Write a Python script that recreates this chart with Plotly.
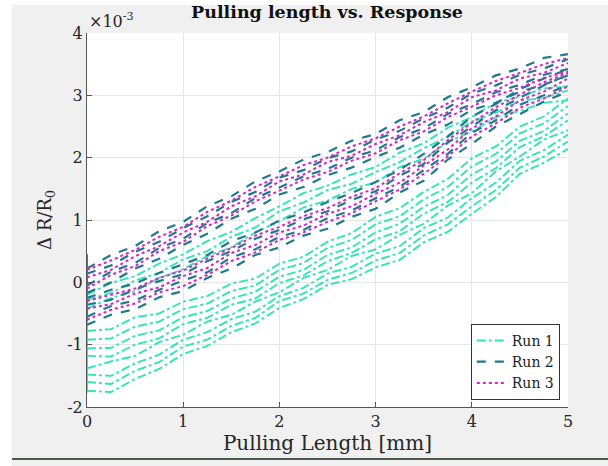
import plotly.graph_objects as go

# x grid of pulling length [mm]
x_mm = [0, 0.25, 0.5, 0.75, 1, 1.25, 1.5, 1.75, 2, 2.25, 2.5, 2.75, 3, 3.25, 3.5, 3.75, 4, 4.25, 4.5, 4.75, 5]

# Run 1 (values are dR/R0 in units of 1e-3)
run1_load_1 = [-1.74,-1.76,-1.55,-1.39,-1.15,-1.02,-0.8,-0.66,-0.41,-0.27,-0.04,0.05,0.24,0.36,0.64,0.81,1.1,1.37,1.74,1.92,2.14]
run1_load_2 = [-1.6,-1.63,-1.42,-1.28,-1.03,-0.92,-0.7,-0.57,-0.3,-0.18,0.04,0.15,0.35,0.47,0.75,0.93,1.22,1.48,1.84,2.02,2.26]
run1_load_3 = [-1.48,-1.5,-1.3,-1.16,-0.92,-0.8,-0.59,-0.47,-0.22,-0.09,0.14,0.25,0.46,0.58,0.87,1.04,1.35,1.6,1.95,2.12,2.37]
run1_load_4 = [-1.38,-1.27,-1.18,-0.96,-0.84,-0.63,-0.52,-0.31,-0.16,0.07,0.2,0.42,0.53,0.76,0.94,1.23,1.43,1.78,2.02,2.29,2.44]
run1_load_5 = [-1.18,-1.19,-1.0,-0.9,-0.67,-0.57,-0.36,-0.26,-0.01,0.11,0.34,0.47,0.69,0.82,1.1,1.29,1.6,1.83,2.17,2.34,2.6]
run1_load_6 = [-1.06,-1.05,-0.86,-0.77,-0.56,-0.46,-0.26,-0.15,0.09,0.2,0.44,0.56,0.8,0.94,1.21,1.4,1.73,1.94,2.27,2.43,2.71]
run1_load_7 = [-0.92,-0.9,-0.71,-0.63,-0.43,-0.34,-0.14,-0.05,0.2,0.31,0.55,0.68,0.93,1.06,1.33,1.53,1.86,2.06,2.39,2.55,2.83]
run1_load_8 = [-0.78,-0.75,-0.56,-0.5,-0.31,-0.22,-0.02,0.06,0.3,0.41,0.65,0.79,1.05,1.19,1.45,1.66,1.99,2.18,2.5,2.66,2.95]
run1_unload_1 = [-0.42,-0.25,-0.14,0.07,0.21,0.42,0.56,0.8,0.98,1.2,1.31,1.5,1.6,1.85,1.98,2.25,2.42,2.65,2.75,2.88,2.92]
run1_unload_2 = [-0.28,-0.17,0.03,0.15,0.37,0.5,0.73,0.88,1.14,1.28,1.48,1.58,1.77,1.93,2.15,2.33,2.58,2.72,2.91,2.96,3.08]
run1_unload_3 = [-0.2,-0.01,0.1,0.3,0.45,0.66,0.81,1.03,1.22,1.43,1.55,1.73,1.85,2.08,2.23,2.48,2.65,2.88,2.98,3.11,3.15]
run1_jump = [-1.77, -0.6]

# Run 2
run2_load_1 = [-0.68,-0.52,-0.43,-0.24,-0.14,0.07,0.22,0.44,0.56,0.75,0.86,1.05,1.18,1.44,1.63,1.97,2.22,2.5,2.7,2.9,3.06]
run2_load_2 = [-0.55,-0.38,-0.29,-0.12,0.03,0.16,0.4,0.53,0.73,0.84,1.03,1.15,1.35,1.53,1.8,2.06,2.4,2.6,2.85,3.0,3.17]
run2_load_3 = [-0.36,-0.28,-0.11,0.02,0.13,0.34,0.5,0.7,0.84,1.01,1.14,1.32,1.46,1.71,1.9,2.24,2.5,2.76,2.96,3.16,3.33]
run2_load_4 = [-0.25,-0.12,-0.02,0.15,0.29,0.44,0.66,0.8,0.99,1.12,1.29,1.43,1.61,1.8,2.06,2.34,2.66,2.86,3.1,3.27,3.42]
run2_unload_1 = [-0.17,0.0,0.22,0.38,0.6,0.78,1.02,1.18,1.41,1.53,1.72,1.84,2.01,2.16,2.37,2.53,2.77,2.88,3.06,3.17,3.32]
run2_unload_2 = [-0.05,0.17,0.31,0.55,0.7,0.95,1.11,1.35,1.52,1.7,1.82,2.0,2.12,2.33,2.47,2.7,2.86,3.05,3.17,3.33,3.42]
run2_unload_3 = [0.14,0.27,0.49,0.65,0.87,1.06,1.29,1.45,1.68,1.8,1.99,2.1,2.29,2.43,2.63,2.8,3.03,3.16,3.33,3.43,3.58]
run2_unload_4 = [0.22,0.44,0.58,0.82,0.97,1.22,1.38,1.62,1.78,1.97,2.09,2.27,2.38,2.6,2.73,2.97,3.13,3.32,3.43,3.6,3.66]

# Run 3
run3_load_1 = [-0.6,-0.44,-0.34,-0.16,-0.06,0.12,0.34,0.48,0.68,0.8,0.97,1.11,1.3,1.49,1.74,2.02,2.34,2.55,2.8,2.95,3.14]
run3_load_2 = [-0.42,-0.35,-0.18,-0.08,0.1,0.23,0.47,0.6,0.8,0.91,1.1,1.22,1.42,1.6,1.87,2.13,2.47,2.66,2.92,3.06,3.27]
run3_load_3 = [-0.3,-0.2,-0.1,0.07,0.19,0.38,0.55,0.75,0.89,1.06,1.19,1.37,1.51,1.75,1.96,2.28,2.56,2.81,3.01,3.21,3.36]
run3_unload_1 = [-0.1,0.12,0.26,0.5,0.65,0.9,1.07,1.3,1.47,1.65,1.77,1.95,2.07,2.28,2.42,2.65,2.82,3.0,3.12,3.28,3.38]
run3_unload_2 = [0.08,0.2,0.42,0.58,0.8,0.97,1.22,1.38,1.62,1.73,1.93,2.03,2.22,2.36,2.57,2.73,2.97,3.08,3.27,3.36,3.52]
run3_unload_3 = [0.2,0.35,0.52,0.73,0.89,1.13,1.31,1.53,1.7,1.88,2.0,2.18,2.31,2.5,2.66,2.87,3.06,3.23,3.36,3.5,3.6]
run3_jump = [-0.62, 0.45]

x_ticks = [0, 1, 2, 3, 4, 5]
y_ticks = [-2, -1, 0, 1, 2, 3, 4]
y_tick_labels = ["-2", "-1", "0", "1", "2", "3", "4"]

run_names = ["Run 1", "Run 2", "Run 3"]
run_colors = ["#2EE6B8", "#1F7A8C", "#E01FC8"]
run_dashes = ["dashdot", "dash", "dot"]
run_widths = [1.9, 2.2, 2.0]

runs = [
    [run1_load_1, run1_load_2, run1_load_3, run1_load_4, run1_load_5, run1_load_6,
     run1_load_7, run1_load_8, run1_unload_1, run1_unload_2, run1_unload_3],
    [run2_load_1, run2_load_2, run2_load_3, run2_load_4,
     run2_unload_1, run2_unload_2, run2_unload_3, run2_unload_4],
    [run3_load_1, run3_load_2, run3_load_3, run3_unload_1, run3_unload_2, run3_unload_3],
]
jumps = [run1_jump, None, run3_jump]

SERIF = "DejaVu Serif"
TXT = "#262626"
fig = go.Figure()
for i, curves in enumerate(runs):
    for j, yv in enumerate(curves):
        fig.add_trace(go.Scatter(
            x=x_mm, y=yv, mode="lines", name=run_names[i], legendgroup=run_names[i],
            showlegend=(j == 0),
            line=dict(color=run_colors[i], dash=run_dashes[i], width=run_widths[i])))
    if jumps[i] is not None:
        fig.add_trace(go.Scatter(
            x=[0, 0], y=jumps[i], mode="lines", legendgroup=run_names[i], showlegend=False,
            line=dict(color=run_colors[i], width=2)))

axis_common = dict(
    showgrid=True, gridcolor="#e6e6e6", gridwidth=1, zeroline=False,
    showline=True, linecolor="#555555", linewidth=1, mirror=False,
    ticks="inside", ticklen=5, tickcolor="#555555",
    tickfont=dict(family=SERIF, size=16, color=TXT),
)

fig.update_layout(
    width=608, height=466,
    margin=dict(l=87, r=40, t=33, b=59),
    paper_bgcolor="#f0f0f0", plot_bgcolor="white",
    title=dict(text="<b>Pulling length vs. Response</b>", x=327 / 608, xanchor="center",
               y=1 - 12 / 466, yanchor="middle",
               font=dict(family=SERIF, size=17.5, color="#111111")),
    xaxis=dict(range=[0, 5], tickvals=x_ticks, **axis_common,
               title=dict(text="Pulling Length [mm]", standoff=4,
                          font=dict(family=SERIF, size=20, color=TXT))),
    yaxis=dict(range=[-2, 4], tickvals=y_ticks, ticktext=y_tick_labels, **axis_common,
               title=dict(text="Δ R/R<sub>0</sub>", standoff=10,
                          font=dict(family=SERIF, size=18, color=TXT))),
    legend=dict(x=0.983, y=0.019, xanchor="right", yanchor="bottom",
                bgcolor="white", bordercolor="#333333", borderwidth=1,
                font=dict(family=SERIF, size=14, color="#1a1a1a"),
                tracegroupgap=0, itemwidth=30),
    showlegend=True,
)

fig.add_annotation(text="×10<sup>-3</sup>", xref="paper", yref="paper",
                   x=0.0, y=1.0, xanchor="left", yanchor="bottom", showarrow=False,
                   font=dict(family=SERIF, size=16, color=TXT))

# white strips on the left and top edge, dark line at the bottom (screenshot framing)
fig.add_shape(type="rect", xref="paper", yref="paper", x0=(0 - 87) / 481, x1=(12 - 87) / 481,
              y0=(407 - 466) / 374, y1=(407 - 0) / 374 + 0.01, fillcolor="white", line_width=0, layer="below")
fig.add_shape(type="rect", xref="paper", yref="paper", x0=(0 - 87) / 481, x1=(608 - 87) / 481,
              y0=(407 - 5) / 374, y1=(407 - 0) / 374 + 0.01, fillcolor="white", line_width=0, layer="below")
fig.add_shape(type="line", xref="paper", yref="paper", x0=(12 - 87) / 481, x1=(608 - 87) / 481,
              y0=(407 - 459) / 374, y1=(407 - 459) / 374, line=dict(color="#4a5a4a", width=2))

fig.write_html("out.html")
